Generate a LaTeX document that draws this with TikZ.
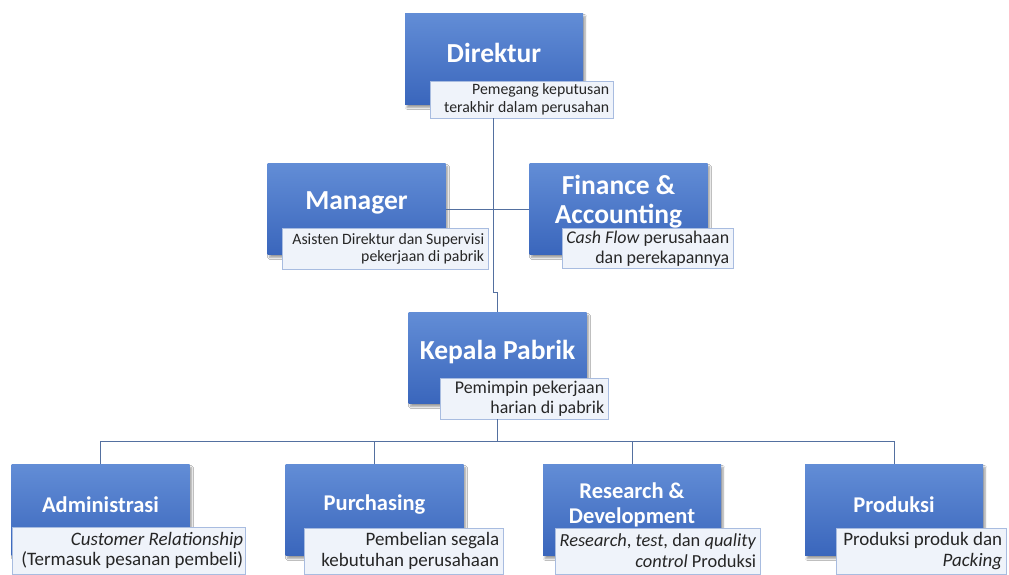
\documentclass[tikz,border=0pt]{standalone}
\usepackage{fontspec}
\setmainfont{Carlito}
\usetikzlibrary{shadows.blur}
\definecolor{boxtop}{RGB}{98,141,214}
\definecolor{boxbot}{RGB}{58,102,188}
\definecolor{descfill}{RGB}{239,243,250}
\definecolor{descline}{RGB}{168,188,224}
\definecolor{conn}{RGB}{84,112,160}
\tikzset{
  bluebox/.style={rectangle, minimum width=178pt, minimum height=91pt, inner sep=0pt,
    top color=boxtop, bottom color=boxbot, draw=none,
    blur shadow={shadow xshift=2pt, shadow yshift=-3pt, shadow blur steps=6, shadow opacity=40}},
  title/.style={text=white, font=\fontsize{27.5}{29}\selectfont\bfseries, align=center, inner sep=0pt},
  titlesm/.style={text=white, font=\fontsize{22.5}{25}\selectfont\bfseries, align=center, inner sep=0pt},
  descbox/.style={rectangle, draw=descline, line width=0.8pt, fill=descfill, inner sep=0pt},
  desctext/.style={anchor=east, inner xsep=4pt, inner ysep=0pt, align=right,
    font=\fontsize{15.8}{17.5}\selectfont, text=black!85},
  descmid/.style={desctext, font=\fontsize{17.9}{19.5}\selectfont},
  desclow/.style={desctext, font=\fontsize{19}{20.8}\selectfont},
  conn/.style={draw=conn, line width=1pt}
}
\begin{document}
\begin{tikzpicture}[x=1pt, y=-1pt]
\useasboundingbox[fill=white] (0,0) rectangle (1009,575);
% boxes
\node[bluebox] (dir) at (494,59) {};
\node[bluebox] (mgr) at (356.5,209) {};
\node[bluebox] (fin) at (618.5,209) {};
\node[bluebox] (kp) at (497.5,358) {};
\node[bluebox] (adm) at (100.5,510) {};
\node[bluebox] (pur) at (374.5,510) {};
\node[bluebox] (rnd) at (632,510) {};
\node[bluebox] (prod) at (894,510) {};
% connector helper points
\coordinate (j1) at (493,292);
\coordinate (j2) at (497.5,292);
\coordinate (bus) at (0,441);
% titles
\node[title] (dirT) at ([yshift=6pt]dir.center) {Direktur};
\node[title] (mgrT) at ([yshift=6pt]mgr.center) {Manager};
\node[title] (finT) at ([yshift=7pt]fin.center) {Finance \&\\Accounting};
\node[title] (kpT) at ([yshift=6pt]kp.center) {Kepala Pabrik};
\node[titlesm] (admT) at ([yshift=5pt]adm.center) {Administrasi};
\node[titlesm] (purT) at ([yshift=5pt]pur.center) {Purchasing};
\node[titlesm] (rndT) at ([yshift=5pt]rnd.center) {Research \&\\Development};
\node[titlesm] (prodT) at ([yshift=5pt]prod.center) {Produksi};
% description boxes
\node[descbox, minimum width=183pt, minimum height=37pt] (dirD) at (521.5,99.5) {};
\node[descbox, minimum width=206pt, minimum height=41pt] (mgrD) at (385,249) {};
\node[descbox, minimum width=171pt, minimum height=40pt] (finD) at (647.5,248.5) {};
\node[descbox, minimum width=168pt, minimum height=41pt] (kpD) at (524,398.5) {};
\node[descbox, minimum width=233pt, minimum height=47pt] (admD) at (128.5,550.5) {};
\node[descbox, minimum width=199pt, minimum height=46pt] (purD) at (403.5,551) {};
\node[descbox, minimum width=205pt, minimum height=46pt] (rndD) at (657.5,551) {};
\node[descbox, minimum width=170pt, minimum height=46pt] (prodD) at (921,551) {};
% description texts
\node[desctext] (dirDt) at (dirD.east) {Pemegang keputusan\\terakhir dalam perusahan};
\node[desctext] (mgrDt) at (mgrD.east) {Asisten Direktur dan Supervisi\\pekerjaan di pabrik};
\node[descmid] (finDt) at (finD.east) {\textit{Cash Flow} perusahaan\\dan perekapannya};
\node[descmid] (kpDt) at (kpD.east) {Pemimpin pekerjaan\\harian di pabrik};
\node[desclow, inner xsep=2pt] (admDt) at (admD.east) {\textit{Customer Relationship}\\(Termasuk pesanan pembeli)};
\node[desclow] (purDt) at (purD.east) {Pembelian segala\\kebutuhan perusahaan};
\node[desclow, font=\fontsize{18.4}{20.8}\selectfont] (rndDt) at (rndD.east) {\textit{Research}, \textit{test}, dan \textit{quality}\\\textit{control} Produksi};
\node[desclow] (prodDt) at (prodD.east) {Produksi produk dan\\\textit{Packing}};
% connectors
\draw[conn] (dirD.south -| j1) -- (j1) -- (j2) -- (kp.north);
\draw[conn] (mgr.east) -- (fin.west);
\draw[conn] (kpD.south -| kp.north) -- (kp.north |- bus);
\draw[conn] (adm.north) -- (adm.north |- bus) -- (prod.north |- bus) -- (prod.north);
\draw[conn] (pur.north) -- (pur.north |- bus);
\draw[conn] (rnd.north) -- (rnd.north |- bus);
\end{tikzpicture}
\end{document}
